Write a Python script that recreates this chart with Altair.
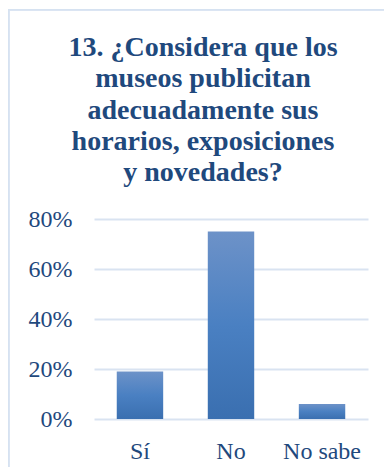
import altair as alt
import pandas as pd

categories = ["Sí", "No", "No sabe"]
values = [0.19, 0.75, 0.06]
title_lines = ["13. ¿Considera que los", "museos publicitan", "adecuadamente sus",
               "horarios, exposiciones", "y novedades?"]
y_ticks = [0, 0.2, 0.4, 0.6, 0.8]

df = pd.DataFrame({"cat": categories, "val": values})

grad = alt.Gradient(
    gradient="linear",
    stops=[alt.GradientStop(color="#6d92c8", offset=0),
           alt.GradientStop(color="#4a80c2", offset=0.5),
           alt.GradientStop(color="#3a6fb0", offset=1)],
    x1=0, x2=0, y1=0, y2=1,
)

TXT = "#1f497d"
FONT = "Liberation Serif"

bars = alt.Chart(df).mark_bar(color=grad).encode(
    x=alt.X("cat:N", sort=categories,
            scale=alt.Scale(paddingInner=0.49, paddingOuter=0.25),
            axis=alt.Axis(title=None, labelAngle=0, domain=False, ticks=False,
                          labelFont=FONT, labelFontSize=24, labelColor=TXT,
                          labelPadding=20, labelBaseline="top", grid=False)),
    y=alt.Y("val:Q", scale=alt.Scale(domain=[0, 0.8]),
            axis=alt.Axis(title=None, values=y_ticks, format=".0%", domain=False, ticks=False,
                          labelFont=FONT, labelFontSize=24, labelColor=TXT,
                          labelPadding=22, gridColor="#d9e3f1", gridWidth=2)),
)

border = alt.Chart(df).mark_rect(fill=None, stroke="#d6e2f1", strokeWidth=1.5).encode(
    x=alt.value(-85.25), x2=alt.value(400), y=alt.value(-209.25), y2=alt.value(400)
)

title = alt.Chart(alt.Data(values=[{"t": 1}])).mark_text(
    text=title_lines, font=FONT, fontSize=28, fontWeight="bold", color=TXT,
    lineHeight=31.3, align="center", baseline="top",
).encode(x=alt.value(109), y=alt.value(-185))

chart = alt.layer(border, bars, title).properties(
    width=274, height=200,
    autosize=alt.AutoSizeParams(type="none"),
    padding={"left": 86, "top": 211, "right": 16, "bottom": 48},
).configure_view(stroke=None)

chart.save("out.html", embed_options={"renderer": "svg", "actions": False})
